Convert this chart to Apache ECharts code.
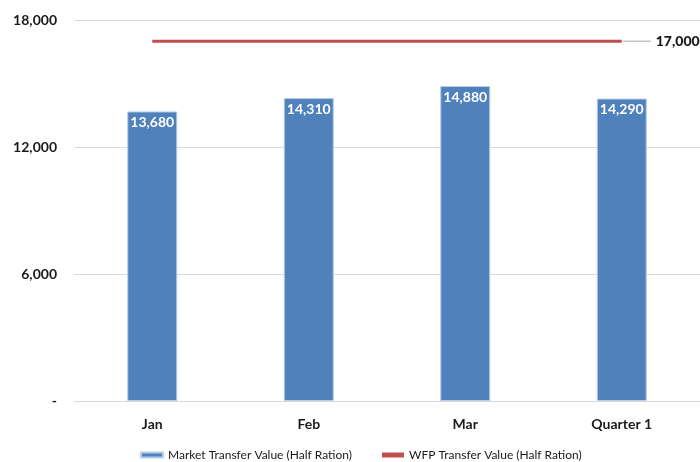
<!DOCTYPE html>
<html><head><meta charset="utf-8">
<script src="https://cdn.jsdelivr.net/npm/echarts@6/dist/echarts.min.js"></script>
<style>html,body{margin:0;padding:0;background:#fff}#c{width:700px;height:462px}</style>
</head><body><div id="c"></div>
<script>
var categories = ['Jan', 'Feb', 'Mar', 'Quarter 1'];
var marketValues = [13680, 14310, 14880, 14290];
var wfpValues = [17000, 17000, 17000, 17000];
var yTicks = [0, 6000, 12000, 18000];

var fmt = function (v) { return v === 0 ? '-' : v.toLocaleString('en-US'); };
var FONT = 'Lato';
var chart = echarts.init(document.getElementById('c'), null, { renderer: 'canvas' });
chart.setOption({
  animation: false,
  textStyle: { fontFamily: FONT },
  grid: { left: 74, right: 0, top: 20, bottom: 61 },
  xAxis: {
    type: 'category', data: categories,
    axisLine: { lineStyle: { color: '#d9d9d9', width: 1 } },
    axisTick: { show: false },
    axisLabel: { color: '#1a1a1a', fontWeight: 'bold', fontSize: 14, fontFamily: FONT, margin: 16 }
  },
  yAxis: {
    type: 'value', min: yTicks[0], max: yTicks[yTicks.length - 1], interval: 6000,
    axisLine: { show: false }, axisTick: { show: false },
    splitLine: { lineStyle: { color: '#d9d9d9', width: 1 } },
    axisLabel: { color: '#1a1a1a', fontWeight: 'bold', fontSize: 14, fontFamily: FONT, margin: 17, formatter: fmt }
  },
  legend: {
    top: 444, left: 135, itemGap: 30, itemWidth: 22, itemHeight: 5,
    textStyle: { color: '#1a1a1a', fontSize: 12, fontFamily: FONT },
    data: [
      { name: 'Market Transfer Value (Half Ration)', icon: 'rect' },
      { name: 'WFP Transfer Value (Half Ration)', icon: 'rect' }
    ]
  },
  series: [
    {
      name: 'Market Transfer Value (Half Ration)', type: 'bar', data: marketValues,
      barWidth: 50,
      itemStyle: { color: '#4f81bd', borderColor: '#b9cde5', borderWidth: 1 },
      label: { show: true, position: 'insideTop', distance: 4, color: '#ffffff', fontWeight: 'bold', fontSize: 14, fontFamily: FONT, formatter: function (p) { return fmt(p.value); } }
    },
    {
      name: 'WFP Transfer Value (Half Ration)', type: 'line', data: wfpValues,
      symbol: 'none', lineStyle: { color: '#c0504d', width: 3 }, itemStyle: { color: '#c0504d' },
      endLabel: {
        show: true, distance: 1, fontWeight: 'bold', fontSize: 14, color: '#1a1a1a', fontFamily: FONT,
        formatter: function (p) { return '{ln|}{v|' + fmt(p.value) + '}'; },
        rich: {
          ln: { width: 28, height: 1, backgroundColor: '#a6a6a6' },
          v: { color: '#1a1a1a', fontWeight: 900, fontSize: 14, fontFamily: 'Lato', fontStyle: 'normal', padding: [0, 0, 0, 5] }
        }
      }
    }
  ]
});
</script></body></html>
